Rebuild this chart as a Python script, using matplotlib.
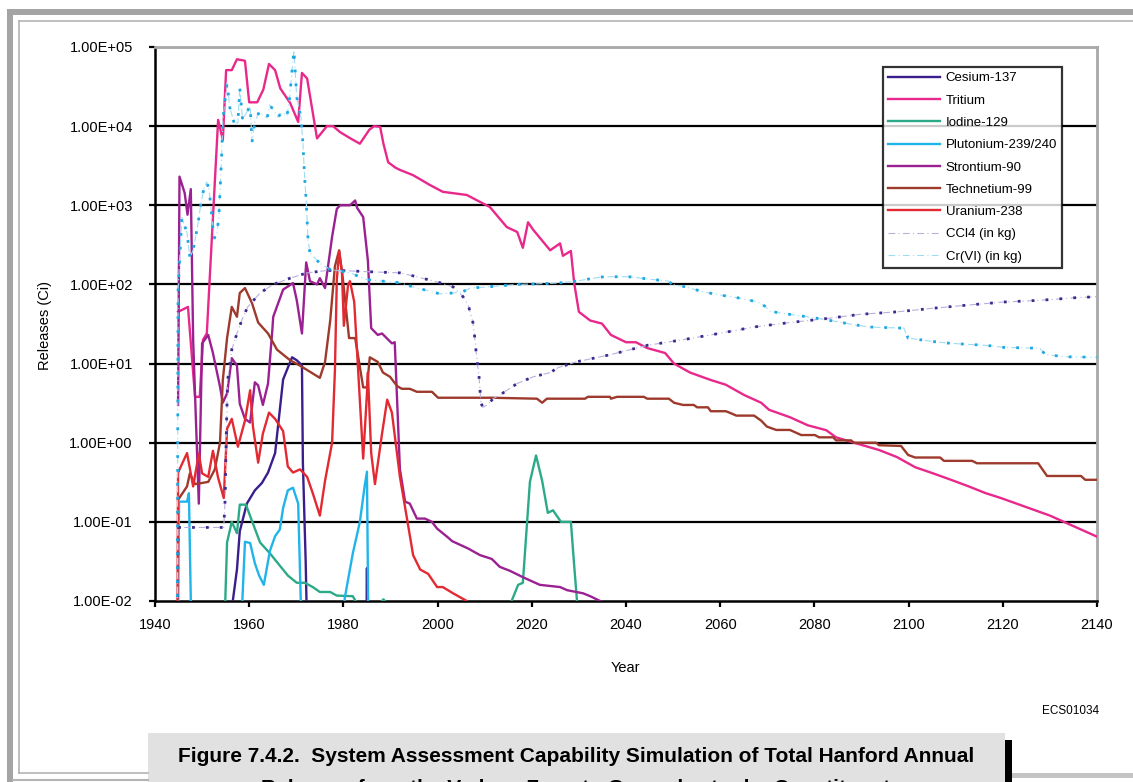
import matplotlib
matplotlib.use("Agg")
import matplotlib.pyplot as plt
from matplotlib.lines import Line2D
from matplotlib.patches import Rectangle
from matplotlib.ticker import FixedLocator, FuncFormatter, NullLocator

W, H = 1133, 782

# ---- data (year, release) ----
cs_years = [1956.3, 1957.4, 1958.0, 1959.5, 1961.2, 1962.7, 1964.0, 1965.5, 1966.5, 1967.2,
            1969.1, 1970.1, 1971.2, 1971.4, 1972.0, 1972.5, 1984.8, 1985.0, 1985.2]
cs_vals = [0.008, 0.025, 0.076, 0.17, 0.25, 0.31, 0.42, 0.74, 2.6, 6.3,
           12, 11, 9.5, 0.55, 0.03, 0.001, 0.001, 0.026, 0.001]

h3_years = [1944.9, 1947.0, 1948.5, 1949.5, 1950.2, 1951.0, 1953.4, 1954.4, 1955.1, 1956.3,
            1957.4, 1959.1, 1960.0, 1961.7, 1963.0, 1964.2, 1965.5, 1966.6, 1968.7, 1970.4,
            1971.2, 1972.3, 1974.4, 1976.5, 1977.8, 1979.3, 1981.5, 1983.5, 1985.5, 1986.5,
            1987.8, 1988.5, 1989.5, 1991.0, 1992.0, 1994.8, 1998.4, 2001.1, 2006.2, 2011.1,
            2014.7, 2016.9, 2018.1, 2019.2, 2020.3, 2023.9, 2026.0, 2026.6, 2028.3, 2029.0,
            2030.0, 2032.4, 2034.9, 2036.8, 2040.0, 2042.1, 2044.5, 2048.3, 2050.2, 2053.6,
            2058.0, 2061.2, 2065.1, 2068.7, 2070.4, 2074.8, 2078.6, 2082.5, 2084.6, 2088.4,
            2093.7, 2097.5, 2101.4, 2105.2, 2109.0, 2112.8, 2116.4, 2119.6, 2130.0, 2140.0]
h3_vals = [45, 52, 3.8, 3.8, 20, 24, 12000, 6700, 51000, 51000,
           70000, 67000, 20000, 20000, 29000, 61000, 51000, 30000, 19600, 11300,
           47000, 40000, 7000, 10000, 10000, 8400, 7000, 6000, 9000, 10000,
           9800, 6000, 3500, 3000, 2800, 2400, 1800, 1480, 1350, 950,
           530, 460, 290, 610, 490, 270, 330, 230, 265, 104,
           45, 35, 32, 23, 18.6, 18.6, 15.7, 13.6, 10, 7.7,
           6.2, 5.4, 4.0, 3.2, 2.6, 2.1, 1.66, 1.44, 1.17, 1.0,
           0.81, 0.66, 0.49, 0.41, 0.34, 0.28, 0.23, 0.2, 0.12, 0.065]

i129_years = [1954.4, 1955.3, 1956.3, 1957.4, 1958.0, 1959.3, 1960.8, 1962.3, 1964.4, 1966.5,
              1968.2, 1970.1, 1971.8, 1973.5, 1975.0, 1977.2, 1978.6, 1982.0, 1983.0, 1987.5,
              1988.5, 1989.5, 2015.4, 2017.1, 2018.1, 2019.6, 2020.9, 2022.2, 2023.4, 2024.5,
              2026.2, 2028.3, 2029.0, 2030.0]
i129_vals = [0.001, 0.055, 0.1, 0.072, 0.165, 0.165, 0.095, 0.055, 0.04, 0.028,
             0.021, 0.017, 0.017, 0.015, 0.013, 0.013, 0.0117, 0.0115, 0.009, 0.009,
             0.0105, 0.009, 0.009, 0.016, 0.017, 0.32, 0.69, 0.33, 0.13, 0.14,
             0.1, 0.1, 0.028, 0.005]

pu_years = [1944.8, 1945.1, 1946.8, 1947.2, 1947.9, 1957.8, 1959.1, 1960.2, 1961.2, 1962.1,
            1963.1, 1964.4, 1965.5, 1966.5, 1967.2, 1968.2, 1969.3, 1970.4, 1971.4, 1979.0,
            1980.3, 1982.0, 1983.5, 1984.5, 1985.0, 1985.4]
pu_vals = [0.001, 0.18, 0.18, 0.23, 0.001, 0.001, 0.056, 0.054, 0.03, 0.021,
           0.016, 0.043, 0.066, 0.08, 0.15, 0.25, 0.27, 0.17, 0.001, 0.001,
           0.011, 0.04, 0.1, 0.28, 0.43, 0.001]

sr_years = [1944.9, 1945.2, 1946.3, 1946.9, 1947.6, 1948.1, 1949.3, 1950.0, 1951.3, 1952.3,
            1953.8, 1954.4, 1955.3, 1956.3, 1957.4, 1958.0, 1959.1, 1960.2, 1961.2, 1961.9,
            1962.9, 1964.0, 1964.9, 1965.1, 1967.2, 1969.3, 1970.1, 1971.2, 1972.1, 1972.9,
            1974.4, 1975.0, 1976.1, 1977.6, 1978.6, 1979.3, 1981.4, 1982.5, 1982.9, 1984.2,
            1985.2, 1985.9, 1987.3, 1988.2, 1990.3, 1990.9, 1992.0, 1993.1, 1994.1, 1995.6,
            1997.3, 1998.8, 1999.9, 2002.0, 2003.1, 2006.5, 2009.0, 2011.5, 2013.2, 2015.4,
            2018.1, 2021.7, 2026.0, 2027.5, 2030.9, 2032.4, 2034.5, 2035.0]
sr_vals = [3.0, 2300, 1430, 760, 1600, 20, 0.17, 18, 23, 13.6,
           5.1, 3.2, 4.2, 11.7, 9.4, 3.1, 2.0, 1.8, 5.8, 5.3,
           3.0, 5.6, 26, 39, 86, 104, 63, 24, 190, 110,
           100, 120, 90, 400, 900, 1000, 1000, 1150, 930, 710,
           200, 28, 23, 24, 18, 18.6, 0.46, 0.18, 0.17, 0.11,
           0.11, 0.1, 0.082, 0.065, 0.057, 0.046, 0.038, 0.034, 0.027, 0.024,
           0.02, 0.016, 0.015, 0.0137, 0.0125, 0.0115, 0.01, 0.009]

tc_years = [1944.9, 1946.8, 1947.4, 1948.5, 1950.0, 1951.3, 1952.7, 1953.8, 1954.4, 1955.3,
            1956.3, 1957.4, 1958.0, 1959.1, 1960.6, 1961.9, 1964.0, 1965.9, 1968.7, 1970.8,
            1975.0, 1976.1, 1977.2, 1978.2, 1979.1, 1979.9, 1981.2, 1982.5, 1984.2, 1985.0,
            1985.6, 1987.3, 1988.4, 1989.9, 1991.4, 1992.4, 1994.1, 1995.6, 1998.8, 2000.1,
            2011.5, 2021.1, 2022.2, 2023.2, 2031.3, 2031.9, 2036.6, 2036.8, 2038.1, 2043.8,
            2044.5, 2049.1, 2050.2, 2052.1, 2054.4, 2055.1, 2057.4, 2058.0, 2061.2, 2062.7,
            2063.4, 2067.2, 2068.7, 2069.9, 2071.9, 2074.8, 2077.2, 2080.1, 2081.0, 2084.0,
            2084.6, 2087.8, 2088.4, 2093.1, 2093.7, 2098.4, 2099.9, 2101.4, 2106.7, 2107.5,
            2113.5, 2114.5, 2127.5, 2129.4, 2136.6, 2137.5, 2140.0]
tc_vals = [0.19, 0.28, 0.41, 0.3, 0.31, 0.32, 0.46, 1.0, 6.2, 21,
           52, 39, 78, 90, 58, 33, 24, 15, 11, 9.4,
           6.6, 10.5, 35, 170, 270, 115, 21, 21, 5.0, 5.0,
           12, 10.5, 7.7, 6.8, 5.2, 4.8, 4.8, 4.4, 4.4, 3.7,
           3.7, 3.6, 3.2, 3.6, 3.6, 3.8, 3.8, 3.6, 3.8, 3.8,
           3.6, 3.6, 3.2, 3.0, 3.0, 2.8, 2.8, 2.5, 2.5, 2.3,
           2.2, 2.2, 1.9, 1.6, 1.45, 1.45, 1.25, 1.25, 1.17, 1.17,
           1.07, 1.07, 1.0, 1.0, 0.93, 0.91, 0.70, 0.65, 0.65, 0.59,
           0.59, 0.55, 0.55, 0.38, 0.38, 0.34, 0.34]

u_years = [1944.7, 1944.9, 1946.8, 1948.1, 1949.3, 1950.0, 1951.3, 1952.3, 1953.4, 1954.6,
           1955.3, 1956.3, 1957.6, 1959.1, 1960.2, 1960.8, 1961.9, 1962.9, 1964.2, 1965.5,
           1967.2, 1968.2, 1969.3, 1970.8, 1972.3, 1973.5, 1975.0, 1976.1, 1977.6, 1978.2,
           1978.6, 1979.1, 1979.7, 1980.1, 1981.0, 1981.4, 1982.3, 1984.2, 1985.0, 1985.2,
           1985.9, 1986.7, 1988.2, 1989.3, 1990.3, 1992.0, 1993.5, 1994.8, 1996.3, 1998.0,
           1999.9, 2001.1, 2003.3, 2006.2, 2007.0]
u_vals = [0.001, 0.42, 0.74, 0.28, 0.73, 0.41, 0.37, 0.79, 0.36, 0.2,
          1.5, 2.0, 0.89, 1.9, 4.6, 1.6, 0.56, 1.3, 2.4, 2.0,
          1.4, 0.5, 0.42, 0.46, 0.37, 0.23, 0.12, 0.33, 1.0, 8.2,
          115, 260, 140, 30, 100, 110, 60, 0.63, 4.2, 7.7,
          0.74, 0.3, 1.3, 3.5, 2.4, 0.37, 0.11, 0.038, 0.025, 0.022,
          0.015, 0.015, 0.0125, 0.01, 0.008]

ccl4_years = [1944.7, 1944.9, 1954.6, 1954.9, 1955.1, 1955.4, 1956.3, 1957.4, 1958.7, 1959.7,
              1962.3, 1965.1, 1968.7, 1972.3, 1976.5, 1979.3, 1985.0, 1992.0, 1995.6, 2000.5,
              2003.3, 2005.4, 2006.5, 2007.5, 2007.8, 2008.2, 2008.8, 2009.2, 2009.6, 2010.5,
              2011.8, 2013.2, 2016.9, 2020.3, 2023.9, 2025.6, 2029.4, 2036.8, 2044.5, 2052.1,
              2059.7, 2067.2, 2074.8, 2082.5, 2089.9, 2097.5, 2105.2, 2112.8, 2120.3, 2127.9,
              2135.5, 2140.0]
ccl4_vals = [0.001, 0.085, 0.085, 0.2, 1.0, 6.0, 15, 24, 39, 52,
             78, 100, 120, 140, 150, 150, 145, 140, 125, 105,
             93, 70, 55, 33, 24, 13.6, 6.8, 3.2, 2.8, 3.0,
             3.6, 4.0, 5.6, 6.8, 7.7, 8.9, 10.5, 13, 17, 20,
             24, 29, 33, 37, 42, 45, 50, 55, 60, 63,
             68, 70]

cr_years = [1944.7, 1944.9, 1945.7, 1946.8, 1947.4, 1948.1, 1949.1, 1949.8, 1950.4, 1951.0,
            1951.5, 1952.1, 1952.5, 1953.2, 1953.6, 1954.2, 1954.4, 1955.3, 1955.9, 1956.8,
            1957.6, 1958.0, 1958.6, 1960.2, 1960.6, 1961.2, 1962.1, 1963.8, 1964.4, 1965.1,
            1966.1, 1967.0, 1968.0, 1968.5, 1969.1, 1969.5, 1970.1, 1971.0, 1971.4, 1971.8,
            1972.1, 1972.5, 1972.9, 1975.0, 1977.2, 1981.4, 1985.0, 1992.0, 1994.8, 2000.5,
            2003.3, 2005.2, 2006.9, 2010.5, 2016.9, 2023.9, 2026.2, 2029.4, 2033.2, 2035.3,
            2040.6, 2045.9, 2049.1, 2049.8, 2052.7, 2056.6, 2059.7, 2064.2, 2068.0, 2069.5,
            2070.4, 2073.3, 2077.2, 2081.0, 2084.6, 2088.4, 2091.6, 2099.0, 2099.9, 2105.2,
            2109.0, 2116.4, 2120.3, 2127.9, 2129.0, 2133.2, 2140.0]
cr_vals = [0.001, 85, 700, 450, 220, 270, 570, 1100, 1650, 1970,
           1550, 700, 375, 450, 800, 5000, 12000, 35000, 17000, 11000,
           11000, 30000, 12000, 18000, 6300, 11300, 15000, 12700, 18500, 16000,
           13000, 15000, 13400, 20000, 51000, 91000, 23000, 12700, 6100, 2100,
           1150, 360, 250, 185, 155, 140, 115, 105, 93, 76,
           78, 80, 90, 93, 100, 103, 105, 110, 120, 125,
           125, 115, 110, 100, 93, 80, 74, 67, 60, 53,
           46, 43, 40, 37, 34, 31, 29, 28, 21, 19,
           18, 17, 16, 15.6, 13, 12.2, 12]

x_ticks = list(range(1940, 2141, 20))
y_ticks = [1e-2, 1e-1, 1e0, 1e1, 1e2, 1e3, 1e4, 1e5]

FONT = ["Liberation Sans", "DejaVu Sans"]
plt.rcParams["font.family"] = FONT


def px_line(fig, x0, y0, x1, y1, **kw):
    fig.add_artist(Line2D([x0 / W, x1 / W], [1 - y0 / H, 1 - y1 / H],
                          transform=fig.transFigure, **kw))


def px_rect(fig, x0, y0, x1, y1, **kw):
    fig.add_artist(Rectangle((x0 / W, 1 - y1 / H), (x1 - x0) / W, (y1 - y0) / H,
                             transform=fig.transFigure, **kw))


def main() -> None:
    fig = plt.figure(figsize=(W / 100, H / 100), dpi=100)
    ax = fig.add_axes([155 / W, 1 - 601 / H, 942 / W, 554 / H])

    ax.set_yscale("log")
    ax.set_xlim(1940, 2140)
    ax.set_ylim(1e-2, 1e5)

    for y in y_ticks[1:]:
        ax.axhline(y, color="black", lw=1.6, zorder=1)

    lw = 1.7
    solid = [
        (cs_years, cs_vals, "#3a1f8c", "Cesium-137"),
        (h3_years, h3_vals, "#e8288b", "Tritium"),
        (i129_years, i129_vals, "#2caa88", "Iodine-129"),
        (pu_years, pu_vals, "#20b4ea", "Plutonium-239/240"),
        (sr_years, sr_vals, "#9b2192", "Strontium-90"),
        (tc_years, tc_vals, "#9e3a2c", "Technetium-99"),
        (u_years, u_vals, "#e32a32", "Uranium-238"),
    ]
    handles = []
    for xs, ys, c, lab in solid:
        h, = ax.plot(xs, ys, color=c, lw=lw, label=lab, zorder=3)
        handles.append(h)

    # kg series: faint dash-dot line with heavier dotted overlay
    h, = ax.plot(ccl4_years, ccl4_vals, color="#b7b0dd", lw=0.8, ls=(0, (6, 3, 1, 3)),
                 label="CCl4 (in kg)", zorder=4)
    ax.plot(ccl4_years, ccl4_vals, color="#3d2a8f", lw=2.0, ls=(0, (1, 4)), zorder=4)
    handles.append(h)
    h, = ax.plot(cr_years, cr_vals, color="#9fdcf3", lw=0.8, ls=(0, (6, 3, 1, 3)),
                 label="Cr(VI) (in kg)", zorder=4)
    ax.plot(cr_years, cr_vals, color="#1ea8e2", lw=2.0, ls=(0, (1, 4)), zorder=4)
    handles.append(h)

    ax.xaxis.set_major_locator(FixedLocator(x_ticks))
    ax.yaxis.set_major_locator(FixedLocator(y_ticks))
    ax.yaxis.set_minor_locator(NullLocator())
    ax.xaxis.set_minor_locator(NullLocator())
    ax.yaxis.set_major_formatter(FuncFormatter(lambda v, p: f"{v:.2E}"))
    ax.tick_params(axis="both", direction="out", length=4, width=1.6, labelsize=10.5,
                   colors="black")
    ax.tick_params(axis="y", pad=12)
    ax.tick_params(axis="x", pad=8)

    for side in ("left", "bottom"):
        ax.spines[side].set_color("black")
        ax.spines[side].set_linewidth(1.8)
    for side in ("top", "right"):
        ax.spines[side].set_color("#a8a8a8")
        ax.spines[side].set_linewidth(2.0)

    leg = ax.legend(handles=handles, loc="upper left", bbox_to_anchor=(0.773, 0.964),
                    borderaxespad=0, fontsize=9.5, handlelength=3.9, handletextpad=0.45,
                    labelspacing=0.76, frameon=True, fancybox=False, borderpad=0.4)
    leg.get_frame().set_edgecolor("black")
    leg.get_frame().set_linewidth(1.6)
    leg.set_zorder(10)

    fig.text(45 / W, 1 - 325 / H, "Releases (Ci)", rotation=90, ha="center", va="center",
             fontsize=10.5)
    fig.text(625 / W, 1 - 668 / H, "Year", ha="center", va="center", fontsize=10.5)
    fig.text(1071 / W, 1 - 711 / H, "ECS01034", ha="center", va="center", fontsize=8.5)

    # page frame
    px_rect(fig, 7, 9, W, 15, color="#a4a4a4", lw=0)
    px_rect(fig, 7, 9, 13, H, color="#a4a4a4", lw=0)
    px_line(fig, 19, 21, W, 21, color="#b4b4b4", lw=1.2)
    px_line(fig, 19, 21, 19, 773, color="#b4b4b4", lw=1.2)
    px_line(fig, 19, 773, 148, 773, color="#b4b4b4", lw=1.2)
    px_line(fig, 13, 780, 148, 780, color="#b4b4b4", lw=1.5)
    px_rect(fig, 1012, 773, W, 778, color="#c4c4c4", lw=0)

    # caption box (second line runs off the bottom edge, as in the scanned page)
    px_rect(fig, 148, 733, 1005, H, color="#e1e1e1", lw=0)
    px_rect(fig, 1005, 740, 1012, H, color="black", lw=0)
    cap_font = ["Liberation Sans Narrow", "Liberation Sans", "DejaVu Sans"]
    fig.text(576 / W, 1 - 757 / H,
             "Figure 7.4.2.  System Assessment Capability Simulation of Total Hanford Annual",
             ha="center", va="center", fontsize=15, fontweight="bold", family=cap_font)
    fig.text(576 / W, 1 - 789 / H,
             "Releases from the Vadose Zone to Groundwater by Constituent",
             ha="center", va="center", fontsize=15, fontweight="bold", family=cap_font)

    fig.savefig("out.png", dpi=100)
    plt.close(fig)


if __name__ == "__main__":
    main()
